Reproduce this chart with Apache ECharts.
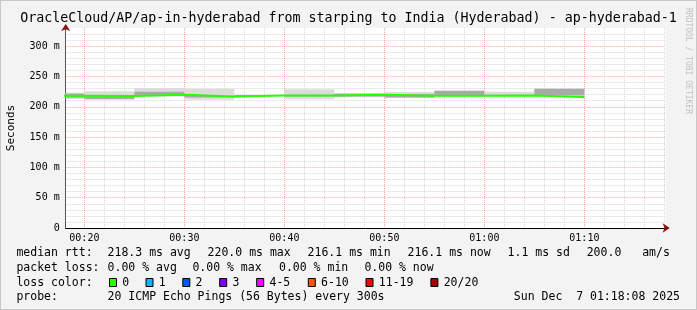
<!DOCTYPE html>
<html><head><meta charset="utf-8">
<script src="https://cdn.jsdelivr.net/npm/echarts@6/dist/echarts.min.js"></script>
<style>html,body{margin:0;padding:0;background:#f3f3f3}#c{width:697px;height:310px}</style>
</head><body><div id="c"></div>
<script>
// ---- data ----
const chartTitle = 'OracleCloud/AP/ap-in-hyderabad from starping to India (Hyderabad) - ap-hyderabad-1';
const windowEnd = '01:18:08';
const windowMinutes = 60;
const stepMinutes = 5;
const intervalEnds = ['00:20','00:25','00:30','00:35','00:40','00:45','00:50','00:55','01:00','01:05','01:10'];
const medianRtt   = [218.1, 217.6, 220.0, 216.9, 218.6, 218.6, 220.0, 218.1, 218.1, 218.6, 216.1];
const smokeLow    = [213.1, 211.5, 216.9, 211.5, 217.6, 212.6, 215.9, 214.3, 216.4, 218.0, 216.4];
const smokeHigh   = [223.5, 225.8, 231.2, 229.6, 219.6, 229.1, 222.5, 224.2, 226.3, 224.7, 229.6];
const innerLow    = [215.0, 213.0, 219.0, 215.5, 217.8, 217.0, 217.0, 215.5, 219.0, 218.2, 219.0];
const innerHigh   = [221.5, 219.0, 225.0, 218.0, 219.4, 220.0, 221.5, 221.0, 226.3, 220.0, 229.6];
const yMax = 330, yStep = 50;
const yUnit = ' m';
const xLabelStep = 10;
const legendRtt  = ['218.3 ms avg', '220.0 ms max', '216.1 ms min', '216.1 ms now', '1.1 ms sd', '200.0', 'am/s'];
const legendLoss = ['0.00 % avg', '0.00 % max', '0.00 % min', '0.00 % now'];
const lossLabels = ['0', '1', '2', '3', '4-5', '6-10', '11-19', '20/20'];
const lossColors = ['#26ff00', '#00b8ff', '#0059ff', '#7e00ff', '#ff00ff', '#ff5500', '#ff0000', '#a10000'];
const probeText = '20 ICMP Echo Pings (56 Bytes) every 300s';
const dateText = 'Sun Dec  7 01:18:08 2025';
const watermark = 'RRDTOOL / TOBI OETIKER';

// ---- helpers ----
function toMin(s){const p=s.split(':').map(Number);return p[0]*60+p[1]+(p[2]||0)/60;}
function fmt(m){const h=Math.floor(m/60)%24, mm=Math.round(m%60);return String(h).padStart(2,'0')+':'+String(mm).padStart(2,'0');}
const xMax = toMin(windowEnd), xMin = xMax - windowMinutes;
const ends = intervalEnds.map(toMin);
const MONO = '"DejaVu Sans Mono", monospace';

const chart = echarts.init(document.getElementById('c'), null, {renderer:'canvas'});

function band(lo, hi, color){
  return {
    type:'custom', silent:true, clip:true, z:2,
    data: ends.map((t,i)=>[t, lo[i], hi[i]]),
    encode:{x:0, y:[1,2]},
    renderItem(params, api){
      const t = api.value(0);
      const a = api.coord([Math.max(t - stepMinutes, xMin), api.value(2)]);
      const b = api.coord([t, api.value(1)]);
      return {type:'rect', shape:{x:a[0], y:a[1], width:b[0]-a[0], height:Math.max(b[1]-a[1], 1)}, style:{fill:color}};
    }
  };
}

const medianData = [[ends[0]-stepMinutes, medianRtt[0]]].concat(ends.map((t,i)=>[t, medianRtt[i]]));

const G = {left:65.7, top:28, width:600, height:200};
const txt = (x, y, text, opt={}) => ({type:'text', x, y, silent:true, style:Object.assign({text, font:'11.5px '+MONO, fill:'#000', textVerticalAlign:'middle'}, opt)});

const rowY = [253.5, 268.5, 283, 297.5];
const graphics = [
  {type:'rect', shape:{x:0,y:0,width:697,height:310}, style:{fill:'none', stroke:'#c8c8c8', lineWidth:2}, silent:true, z:-1},
  txt(348.5, 19, chartTitle, {font:'13.3px '+MONO, textAlign:'center'}),
  {type:'text', x:688, y:8, rotation:-Math.PI/2, silent:true, style:{text:watermark, font:'8px '+MONO, fill:'#c0c0c0', textVerticalAlign:'middle'}},
  txt(16.4, rowY[0], 'median rtt:'),
  txt(16.4, rowY[1], 'packet loss:'),
  txt(16.4, rowY[2], 'loss color:'),
  txt(16.4, rowY[3], 'probe:'),
  txt(107.6, rowY[3], probeText),
  txt(680, rowY[3], dateText, {textAlign:'right'})
];
const rttX = [107.6, 207.6, 307.6, 407.6, 507.6, 586.7, 642.2];
legendRtt.forEach((s,i)=>graphics.push(txt(rttX[i], rowY[0], s)));
const lossX = [107.6, 192.4, 279, 364.4];
legendLoss.forEach((s,i)=>graphics.push(txt(lossX[i], rowY[1], s)));
const boxX = [109, 145.5, 182.3, 219.2, 256.2, 307.8, 365.5, 430.4];
lossLabels.forEach((s,i)=>{
  graphics.push({type:'rect', silent:true, shape:{x:boxX[i]+0.5, y:rowY[2]-4.5, width:7, height:8}, style:{fill:lossColors[i], stroke:'#000', lineWidth:1}});
  graphics.push(txt(boxX[i]+13.3, rowY[2], s));
});

const gridSplit = {show:true, showMinLine:false, showMaxLine:false, lineStyle:{color:'rgba(255,90,90,0.55)', type:[1,1], width:1}};
const gridMinor = {show:true, lineStyle:{color:'#d6d6d6', type:[1,1], width:1}};

chart.setOption({
  animation:false,
  backgroundColor:'#f3f3f3',
  grid:Object.assign({backgroundColor:'#fff', show:true, borderWidth:0, containLabel:false, outerBoundsMode:'none'}, G),
  xAxis:[{
    type:'value', min:xMin, max:xMax, splitNumber:windowMinutes/xLabelStep,
    axisLine:{show:true, onZero:false, lineStyle:{color:'#000', width:1}},
    axisTick:{show:false},
    axisLabel:{margin:5, fontFamily:MONO, fontSize:10, color:'#000',
      formatter:v=>Math.abs(v/xLabelStep-Math.round(v/xLabelStep))<1e-6?fmt(v):''},
    splitLine:gridSplit,
    minorTick:{show:false, splitNumber:5},
    minorSplitLine:gridMinor
  },{
    type:'value', min:xMin, max:xMax, position:'bottom',
    axisLine:{show:true, onZero:false, symbol:['none','arrow'], symbolSize:[7,7], symbolOffset:[0,4], lineStyle:{color:'#8b1010', width:0}},
    axisTick:{show:false}, axisLabel:{show:false}, splitLine:{show:false}
  }],
  yAxis:[{
    type:'value', min:0, max:yMax, interval:yStep,
    name:'Seconds', nameLocation:'middle', nameGap:49, nameRotate:90,
    nameTextStyle:{fontFamily:MONO, fontSize:11, color:'#000'},
    axisLine:{show:true, lineStyle:{color:'#555', width:1}},
    axisTick:{show:false},
    axisLabel:{margin:6, fontFamily:MONO, fontSize:10, color:'#000',
      formatter:v=>(v%yStep===0)?(v===0?'0':v+yUnit):''},
    splitLine:gridSplit,
    minorTick:{show:false, splitNumber:5},
    minorSplitLine:gridMinor
  },{
    type:'value', min:0, max:yMax, position:'left',
    axisLine:{show:true, symbol:['none','arrow'], symbolSize:[7,7], symbolOffset:[0,4], lineStyle:{color:'#8b1010', width:0}},
    axisTick:{show:false}, axisLabel:{show:false}, splitLine:{show:false}
  }],
  series:[
    band(smokeLow, smokeHigh, '#dcdcdc'),
    band(innerLow, innerHigh, '#a9a9a9'),
    {type:'line', step:'start', data:medianData, showSymbol:false, symbol:'none', z:5,
     lineStyle:{color:lossColors[0], width:2}, silent:true}
  ],
  graphic:graphics
});
</script></body></html>
